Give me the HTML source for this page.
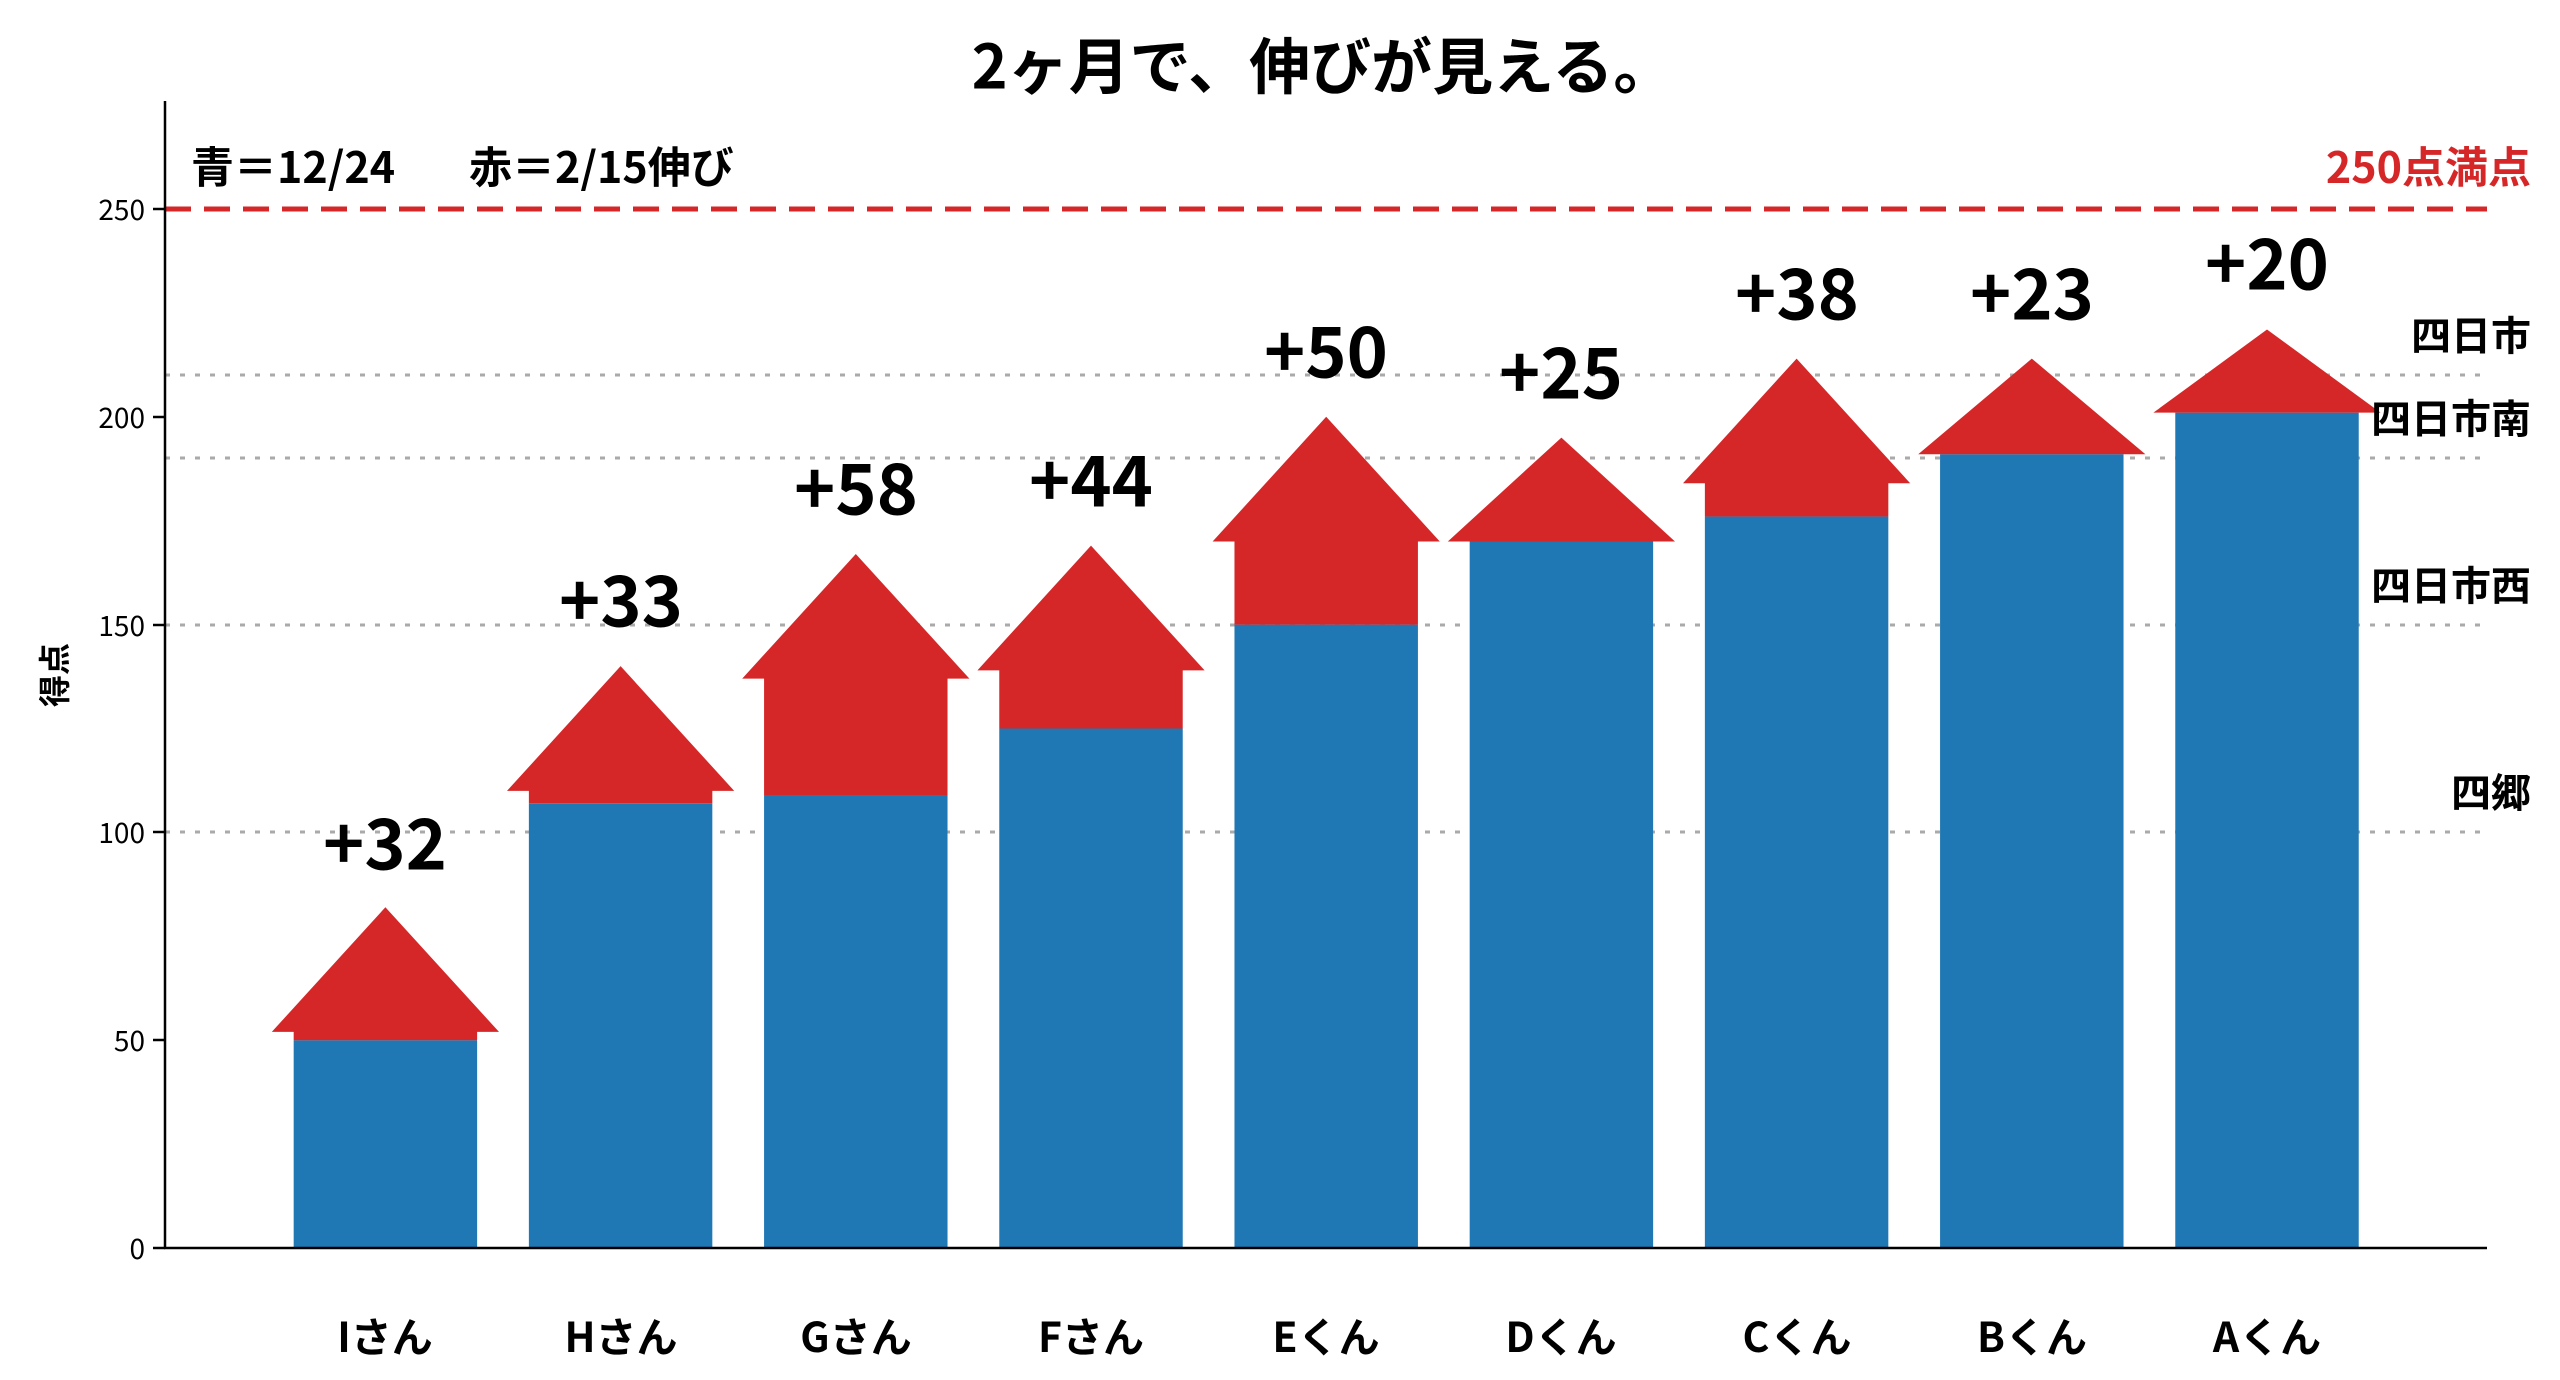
<!DOCTYPE html>
<html><head><meta charset="utf-8"><style>
html,body{margin:0;padding:0;background:#fff;}
svg{display:block;}
text{font-family:"Noto Sans CJK JP","Liberation Sans",sans-serif;}
.b{font-weight:bold;}
</style></head><body>
<svg width="2560" height="1380" viewBox="0 0 2560 1380" xmlns="http://www.w3.org/2000/svg">
<rect width="2560" height="1380" fill="#fff"/>
<g stroke="#aaaaaa" stroke-width="3" stroke-dasharray="5,10">
<line x1="165" y1="832" x2="2487" y2="832"/>
<line x1="165" y1="625" x2="2487" y2="625"/>
<line x1="165" y1="458" x2="2487" y2="458"/>
<line x1="165" y1="375" x2="2487" y2="375"/>
</g>
<g transform="matrix(235.2,0,0,-4.156,385.4,1248)">
<g fill="#1f77b4">
<rect x="-0.39" y="0" width="0.78" height="50"/>
<rect x="0.61" y="0" width="0.78" height="107"/>
<rect x="1.61" y="0" width="0.78" height="109"/>
<rect x="2.61" y="0" width="0.78" height="125"/>
<rect x="3.61" y="0" width="0.78" height="150"/>
<rect x="4.61" y="0" width="0.78" height="170"/>
<rect x="5.61" y="0" width="0.78" height="176"/>
<rect x="6.61" y="0" width="0.78" height="191"/>
<rect x="7.61" y="0" width="0.78" height="201"/>
</g>
<g fill="#d62728">
<polygon points="-0.39,50 0.39,50 0.39,52 0.483,52 0,82 -0.483,52 -0.39,52"/>
<polygon points="0.61,107 1.39,107 1.39,110 1.483,110 1,140 0.517,110 0.61,110"/>
<polygon points="1.61,109 2.39,109 2.39,137 2.483,137 2,167 1.517,137 1.61,137"/>
<polygon points="2.61,125 3.39,125 3.39,139 3.483,139 3,169 2.517,139 2.61,139"/>
<polygon points="3.61,150 4.39,150 4.39,170 4.483,170 4,200 3.517,170 3.61,170"/>
<polygon points="4.517,170 5.483,170 5,195"/>
<polygon points="5.61,176 6.39,176 6.39,184 6.483,184 6,214 5.517,184 5.61,184"/>
<polygon points="6.517,191 7.483,191 7,214"/>
<polygon points="7.517,201 8.483,201 8,221"/>
</g>
</g>
<line x1="165" y1="209" x2="2487" y2="209" stroke="#d62728" stroke-width="5" stroke-dasharray="26,13"/>
<line x1="165" y1="101" x2="165" y2="1249" stroke="#000" stroke-width="2.5"/>
<line x1="164" y1="1248" x2="2487" y2="1248" stroke="#000" stroke-width="2.5"/>
<g stroke="#000" stroke-width="2.5">
<line x1="153" y1="1248" x2="165" y2="1248"/>
<line x1="153" y1="1040" x2="165" y2="1040"/>
<line x1="153" y1="832" x2="165" y2="832"/>
<line x1="153" y1="625" x2="165" y2="625"/>
<line x1="153" y1="417" x2="165" y2="417"/>
<line x1="153" y1="209" x2="165" y2="209"/>
</g>
<g font-size="28" text-anchor="end" dominant-baseline="central" fill="#000">
<text x="145" y="1248">0</text>
<text x="145" y="1040">50</text>
<text x="145" y="832">100</text>
<text x="145" y="625">150</text>
<text x="145" y="417">200</text>
<text x="145" y="209">250</text>
</g>
<g class="b" font-size="70" text-anchor="middle" dominant-baseline="central" fill="#000">
<text x="385" y="840">+32</text>
<text x="621" y="597">+33</text>
<text x="856" y="485">+58</text>
<text x="1091" y="477">+44</text>
<text x="1326" y="348">+50</text>
<text x="1561" y="369">+25</text>
<text x="1797" y="290">+38</text>
<text x="2032" y="290">+23</text>
<text x="2267" y="260">+20</text>
</g>
<g class="b" font-size="41" text-anchor="middle" dominant-baseline="central" fill="#000">
<text x="385" y="1334">Iさん</text>
<text x="621" y="1334">Hさん</text>
<text x="856" y="1334">Gさん</text>
<text x="1091" y="1334">Fさん</text>
<text x="1326" y="1334">Eくん</text>
<text x="1561" y="1334">Dくん</text>
<text x="1797" y="1334">Cくん</text>
<text x="2032" y="1334">Bくん</text>
<text x="2267" y="1334">Aくん</text>
</g>
<g class="b" font-size="40" text-anchor="end" dominant-baseline="central" fill="#000">
<text x="2531" y="333">四日市</text>
<text x="2531" y="416">四日市南</text>
<text x="2531" y="583">四日市西</text>
<text x="2531" y="790">四郷</text>
<text x="2531" y="165" fill="#d62728" font-size="43">250点満点</text>
</g>
<g class="b" font-size="43" dominant-baseline="central" fill="#000">
<text x="191" y="165">青＝12/24</text>
<text x="469" y="165">赤＝2/15伸び</text>
</g>
<text class="b" x="1323" y="62" font-size="61" text-anchor="middle" dominant-baseline="central" fill="#000">2ヶ月で、伸びが見える。</text>
<text class="b" x="53" y="675" font-size="32" text-anchor="middle" dominant-baseline="central" fill="#000" transform="rotate(-90 53 675)">得点</text>
</svg>
</body></html>
